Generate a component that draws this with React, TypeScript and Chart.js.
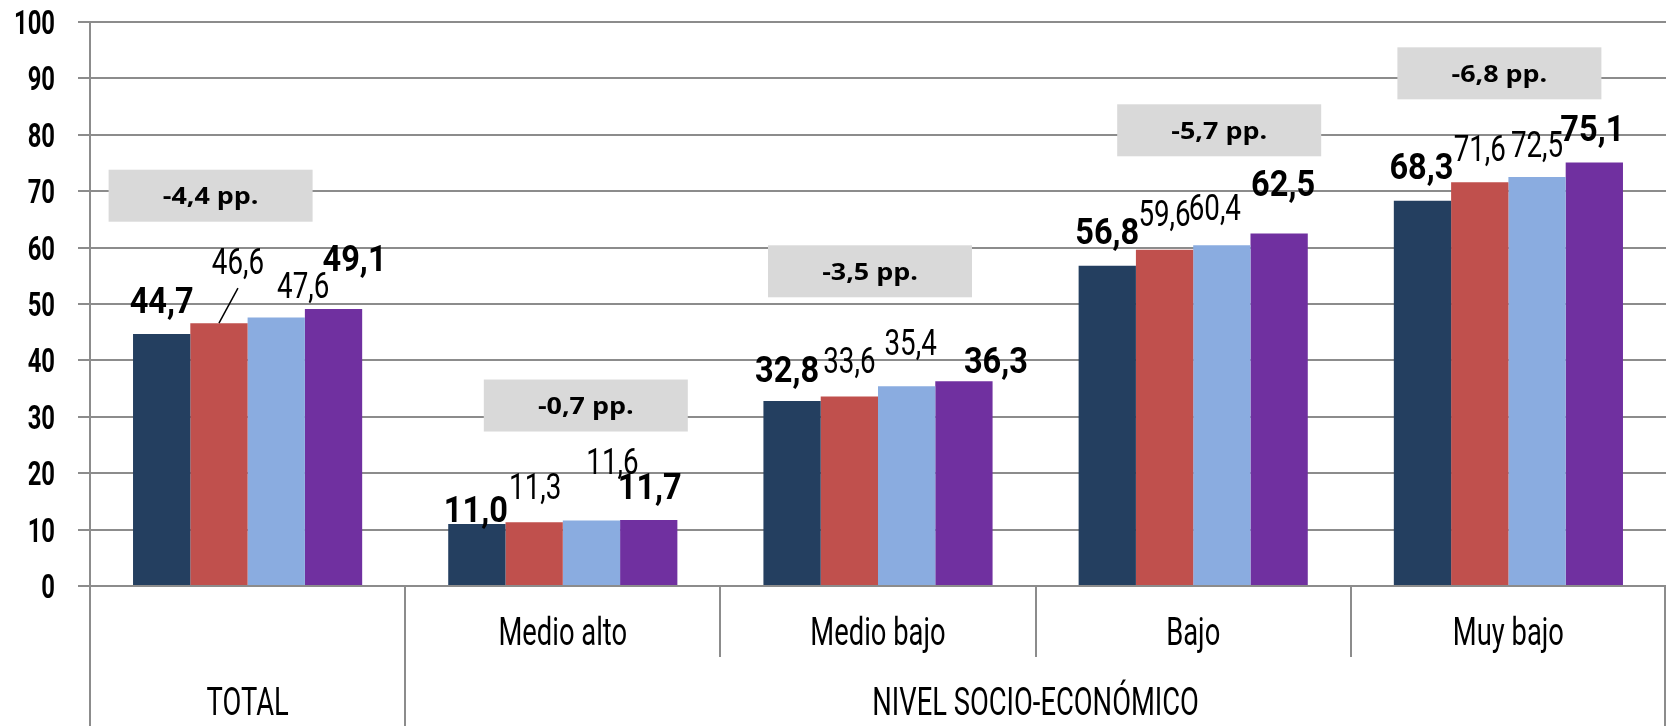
import React, { useEffect, useRef } from "react";
import { Chart, registerables } from "chart.js";

Chart.register(...registerables);

// ---------- data ----------
const categories = ["TOTAL", "Medio alto", "Medio bajo", "Bajo", "Muy bajo"];
const groupLabels = ["TOTAL", "NIVEL SOCIO-ECONÓMICO"];
const seriesNames = ["Serie 1", "Serie 2", "Serie 3", "Serie 4"];
const series1 = [44.7, 11.0, 32.8, 56.8, 68.3];
const series2 = [46.6, 11.3, 33.6, 59.6, 71.6];
const series3 = [47.6, 11.6, 35.4, 60.4, 72.5];
const series4 = [49.1, 11.7, 36.3, 62.5, 75.1];
const diffLabels = ["-4,4 pp.", "-0,7 pp.", "-3,5 pp.", "-5,7 pp.", "-6,8 pp."];
const yTicks = [0, 10, 20, 30, 40, 50, 60, 70, 80, 90, 100];

// ---------- layout / style (not data) ----------
const colors = ["#243F60", "#C0504D", "#8AACE0", "#7030A0"];
const boldSeries = [true, false, false, true];
// label offsets [dx, dy] in px relative to default position above bar
const labelOffsets = [
  [[0, 0], [-1, 19], [-5, 2], [0, -1], [-1, -1]],
  [[19, -28], [1, -2], [0, -2], [0, -3], [0, 0]],
  [[27, 1], [21, -26], [4, -10], [-7, -4], [0, 1]],
  [[21, -17], [1, 0], [32, 13], [4, -17], [-2, 0]],
];
const leaderLines = [[1, 0]]; // [series, category]
const boxCenterValue = [69.2, 32.0, 55.8, 80.8, 90.9];
const boxDx = [-37, 23, -8, 26, -9];
const GRID = "#8c8c8c";
const COND = 'Roboto, "DejaVu Sans", sans-serif';

const fmt = (v: number) => v.toFixed(1).replace(".", ",");

function drawScaled(
  ctx: CanvasRenderingContext2D,
  text: string,
  x: number,
  y: number,
  font: string,
  sx: number,
  align: CanvasTextAlign
) {
  ctx.save();
  ctx.font = font;
  ctx.textAlign = align;
  ctx.textBaseline = "alphabetic";
  ctx.fillStyle = "#000";
  ctx.translate(x, y);
  ctx.scale(sx, 1);
  ctx.fillText(text, 0, 0);
  ctx.restore();
}

const overlayPlugin = {
  id: "overlay",
  afterDatasetsDraw(chart: any) {
    const ctx: CanvasRenderingContext2D = chart.ctx;
    const area = chart.chartArea;
    const yScale = chart.scales.y;
    const H = chart.height;
    const n = categories.length;
    const catW = (area.right - area.left) / n;
    const catCenter = (c: number) => area.left + catW * (c + 0.5);

    ctx.save();
    // axis extensions and dividers below the plot
    ctx.strokeStyle = GRID;
    ctx.lineWidth = 2;
    ctx.beginPath();
    ctx.moveTo(area.left, area.bottom);
    ctx.lineTo(area.left, H);
    for (let k = 1; k <= n; k++) {
      const x = Math.round(area.left + catW * k) - (k === n ? 1 : 0);
      ctx.moveTo(x, area.bottom);
      ctx.lineTo(x, k === 1 || k === n ? H : area.bottom + 71);
    }
    ctx.stroke();
    ctx.restore();

    // y tick labels
    yScale.ticks.forEach((t: any) => {
      const py = yScale.getPixelForValue(t.value);
      drawScaled(ctx, String(t.value), area.left - 35, py + 12, `bold 34px ${COND}`, 0.7, "right");
    });

    // category labels
    const catFont = `38px ${COND}`;
    for (let c = 1; c < n; c++) {
      drawScaled(ctx, categories[c], catCenter(c), area.bottom + 59, catFont, 0.72, "center");
    }
    drawScaled(ctx, groupLabels[0], catCenter(0), area.bottom + 129, catFont, 0.72, "center");
    const gx = (area.left + catW + area.right) / 2;
    drawScaled(ctx, groupLabels[1], gx, area.bottom + 129, catFont, 0.72, "center");

    // difference boxes
    for (let c = 0; c < n; c++) {
      const cx = catCenter(c) + boxDx[c];
      const cy = yScale.getPixelForValue(boxCenterValue[c]);
      ctx.save();
      ctx.fillStyle = "#D9D9D9";
      ctx.fillRect(cx - 102, cy - 26, 204, 52);
      ctx.restore();
      drawScaled(ctx, diffLabels[c], cx, cy + 8.5, `bold 24px "Open Sans", Lato, sans-serif`, 1.12, "center");
    }

    // data labels
    chart.data.datasets.forEach((ds: any, i: number) => {
      const meta = chart.getDatasetMeta(i);
      meta.data.forEach((bar: any, c: number) => {
        const [dx, dy] = labelOffsets[i][c];
        const lx = bar.x + dx;
        const ly = bar.y - 34 + dy;
        if (boldSeries[i]) {
          drawScaled(ctx, fmt(ds.data[c]), lx, ly + 13, `bold 37px ${COND}`, 0.88, "center");
        } else {
          drawScaled(ctx, fmt(ds.data[c]), lx, ly + 13, `37px ${COND}`, 0.75, "center");
        }
        if (leaderLines.some(([s, k]) => s === i && k === c)) {
          ctx.save();
          ctx.strokeStyle = "#000";
          ctx.lineWidth = 1.5;
          ctx.beginPath();
          ctx.moveTo(bar.x, bar.y);
          ctx.lineTo(lx, ly + 27);
          ctx.stroke();
          ctx.restore();
        }
      });
    });
  },
};

export default function App() {
  const ref = useRef<HTMLCanvasElement | null>(null);
  useEffect(() => {
    document.body.style.margin = "0";
    const canvas = ref.current;
    if (!canvas) return;
    const seriesData = [series1, series2, series3, series4];
    const chart = new Chart(canvas, {
      type: "bar",
      data: {
        labels: categories,
        datasets: seriesData.map((d, i) => ({
          label: seriesNames[i],
          data: d,
          backgroundColor: colors[i],
          borderWidth: 0,
          categoryPercentage: 0.727,
          barPercentage: 1,
        })),
      },
      options: {
        responsive: false,
        animation: false,
        devicePixelRatio: 1,
        layout: { padding: { top: 22, right: 2, bottom: 140, left: 0 } },
        plugins: {
          legend: { display: false },
          tooltip: { enabled: false },
          title: { display: false },
        },
        scales: {
          x: { display: false },
          y: {
            min: 0,
            max: 100,
            afterFit: (s: any) => {
              s.width = 90;
            },
            afterBuildTicks: (s: any) => {
              s.ticks = yTicks.map((v) => ({ value: v }));
            },
            ticks: {
              color: "rgba(0,0,0,0)",
              padding: 0,
              font: { family: COND, size: 10 },
            },
            grid: { color: GRID, lineWidth: 2, tickLength: 12, drawTicks: true },
            border: { display: true, color: GRID, width: 2 },
          },
        },
      },
      plugins: [overlayPlugin],
    });
    return () => chart.destroy();
  }, []);
  return (
    <div style={{ position: "fixed", left: 0, top: 0, width: 1668, height: 726, background: "#fff" }}>
      <canvas ref={ref} width={1668} height={726} style={{ display: "block" }} />
    </div>
  );
}
